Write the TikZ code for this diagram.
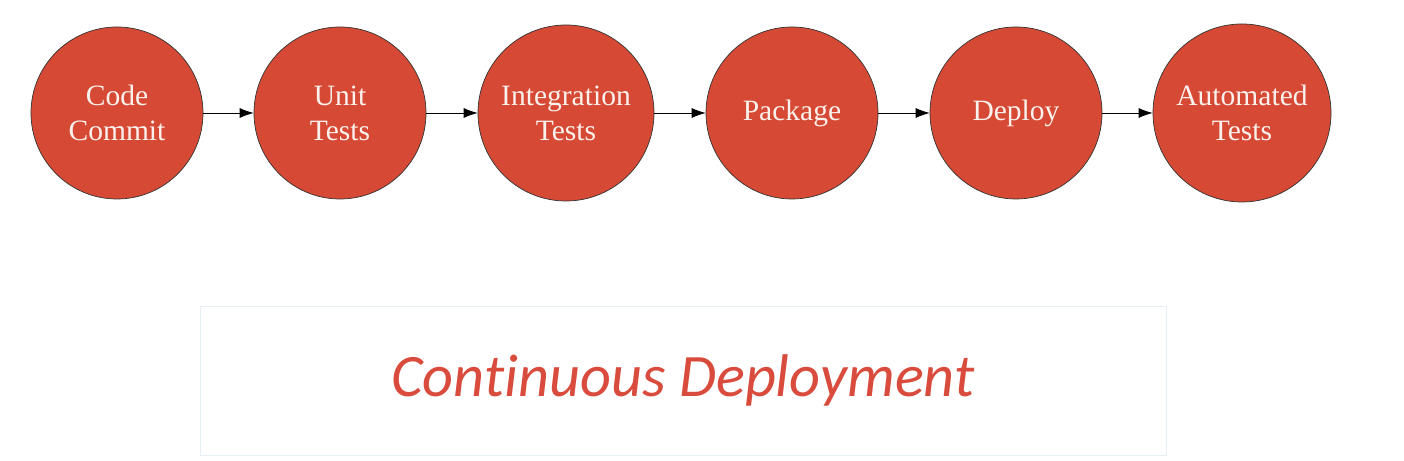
\documentclass[tikz,border=0pt]{standalone}
\usepackage{fontspec}
\setmainfont{Liberation Serif}
\newfontfamily\captionfont[Ligatures=NoCommon]{Carlito}
\usepackage{xcolor}
\usetikzlibrary{arrows.meta, positioning}

\definecolor{stagered}{HTML}{D64A35}
\definecolor{stagetext}{HTML}{FBF1EC}
\definecolor{captionred}{HTML}{D94B3C}
\definecolor{boxline}{HTML}{E6EFF3}

\begin{document}
\begin{tikzpicture}[
            stage/.style={circle, draw=black!80, thin, fill=stagered, minimum size=3.44cm, inner sep=0pt, align=center, text=stagetext, font=\fontsize{16.8}{20}\selectfont},
            arrow/.style={-{Latex[length=0.28cm, width=0.2cm]}, black, thin}
        ]

% page size
            \useasboundingbox (0,0) rectangle (28.08,9.22);

% pipeline stages
            \node[stage] (commit) at (2.34,6.96) {Code\\Commit};
            \node[stage] (unit) at (6.80,6.96) {Unit\\Tests};
            \node[stage, minimum size=3.52cm] (integ) at (11.32,6.96) {Integration\\Tests};
            \node[stage] (package) at (15.84,6.96) {Package};
            \node[stage] (deploy) at (20.32,6.96) {Deploy};
            \node[stage, minimum size=3.56cm] (autotest) at (24.84,6.96) {Automated\\Tests};

% connectors
            \draw[arrow] (commit) -- (unit);
            \draw[arrow] (unit) -- (integ);
            \draw[arrow] (integ) -- (package);
            \draw[arrow] (package) -- (deploy);
            \draw[arrow] (deploy) -- (autotest);

% caption box
            \node[rectangle, draw=boxline, thin, minimum width=19.32cm, minimum height=2.98cm, text=captionred, font=\captionfont\itshape\fontsize{34.3}{40}\selectfont] (caption) at (13.66,1.61) {Continuous Deployment};

        \end{tikzpicture}
\end{document}
